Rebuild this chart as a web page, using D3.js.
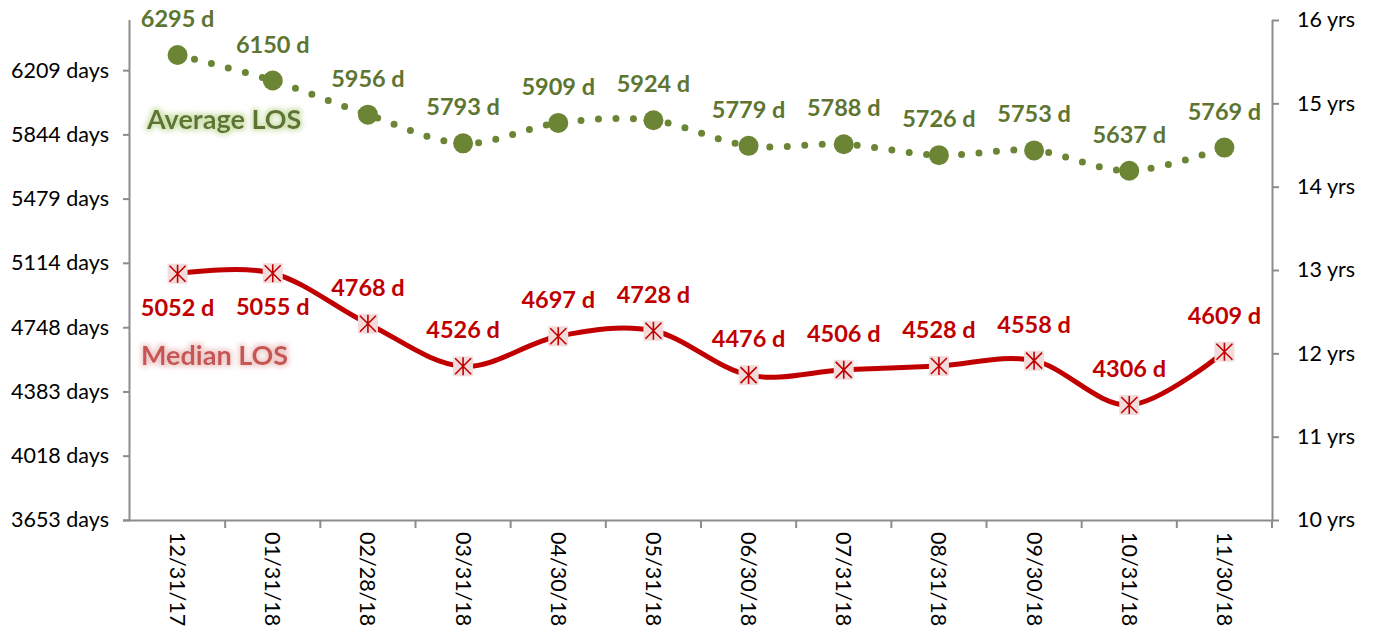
<!DOCTYPE html>
<html>
<head>
<meta charset="utf-8">
<script src="https://cdn.jsdelivr.net/npm/d3@7.9.0/dist/d3.min.js"></script>
<style>
  body { margin: 0; background: #fff; }
  svg { display: block; font-family: Lato, "Open Sans", sans-serif; }
  .axis path, .axis line { stroke: #8c8c8c; stroke-width: 2; }
  .axis text { fill: #000; font-size: 21.5px; font-family: Lato, "Open Sans", sans-serif; }
</style>
</head>
<body>
<svg id="chart" width="1382" height="632"></svg>
<script>
// values
const dates = ['12/31/17', '01/31/18', '02/28/18', '03/31/18', '04/30/18', '05/31/18',
  '06/30/18', '07/31/18', '08/31/18', '09/30/18', '10/31/18', '11/30/18'];
const avgLOS = [6295, 6150, 5956, 5793, 5909, 5924, 5779, 5788, 5726, 5753, 5637, 5769];
const medianLOS = [5052, 5055, 4768, 4526, 4697, 4728, 4476, 4506, 4528, 4558, 4306, 4609];
const dayTicks = [3653, 4018, 4383, 4748, 5114, 5479, 5844, 6209];
const yearTicks = [10, 11, 12, 13, 14, 15, 16];

const width = 1382, height = 632;
const margin = { top: 20, right: 110, bottom: 112, left: 130 };

const green = '#6b8535';
const greenText = '#5d7530';
const red = '#c00000';

const svg = d3.select('#chart');

const x = d3.scaleBand().domain(dates).range([margin.left, width - margin.right]);
const y = d3.scaleLinear().domain([3652.5, 6494]).range([height - margin.bottom, margin.top]);
const yR = d3.scaleLinear().domain([10, 16]).range([height - margin.bottom, margin.top]);
const cx = (d) => x(d) + x.bandwidth() / 2;

// glow filters for the series titles
let defs = svg.append('defs');
function glow(id, color) {
    let f = defs.append('filter').attr('id', id)
        .attr('x', '-20%').attr('y', '-50%').attr('width', '140%').attr('height', '200%');
    f.append('feMorphology').attr('in', 'SourceAlpha').attr('operator', 'dilate').attr('radius', 2).attr('result', 'fat');
    f.append('feGaussianBlur').attr('in', 'fat').attr('stdDeviation', 2.5).attr('result', 'blur');
    f.append('feFlood').attr('flood-color', color);
    f.append('feComposite').attr('in2', 'blur').attr('operator', 'in').attr('result', 'glow');
    let m = f.append('feMerge');
    m.append('feMergeNode').attr('in', 'glow');
    m.append('feMergeNode').attr('in', 'SourceGraphic');
}
glow('glowGreen', '#d3e3b4');
glow('glowPink', '#efcccb');

// axes
svg.append('g')
    .attr('class', 'axis')
    .attr('transform', `translate(${margin.left},0)`)
    .call(d3.axisLeft(y).tickValues(dayTicks).tickSize(7).tickPadding(14).tickFormat((d) => `${d} days`))
    .call((g) => g.select('.domain').attr('d', `M-0.5,${y.range()[0]}V${y.range()[1]}`));

svg.append('g')
    .attr('class', 'axis')
    .attr('transform', `translate(${width - margin.right},0)`)
    .call(d3.axisRight(yR).tickValues(yearTicks).tickSize(7).tickPadding(18).tickFormat((d) => `${d} yrs`))
    .call((g) => g.select('.domain').attr('d', `M0.5,${yR.range()[0]}V${yR.range()[1]}`));

let xAxis = svg.append('g')
    .attr('class', 'axis')
    .attr('transform', `translate(0,${height - margin.bottom})`)
    .call(d3.axisBottom(x).tickSize(0).tickPadding(0));
xAxis.select('.domain').attr('d', `M${margin.left - 7},0.5H${width - margin.right + 1}`);
xAxis.selectAll('.tick text')
    .attr('transform', 'translate(0,12) rotate(90)')
    .attr('text-anchor', 'start')
    .attr('dy', '0.35em')
    .attr('x', 0).attr('y', 0);
xAxis.selectAll('.bound')
    .data(d3.range(1, dates.length + 1))
    .join('line')
    .attr('x1', (i) => margin.left + i * x.step())
    .attr('x2', (i) => margin.left + i * x.step())
    .attr('y1', 0).attr('y2', 8);

// lines
const line = (vals) => d3.line()
    .x((d, i) => cx(dates[i]))
    .y((d) => y(d))
    .curve(d3.curveCardinal.tension(0))(vals);

svg.append('path')
    .attr('d', line(avgLOS))
    .attr('fill', 'none')
    .attr('stroke', green)
    .attr('stroke-width', 7)
    .attr('stroke-linecap', 'round')
    .attr('stroke-dasharray', '0 17.5');

svg.append('path')
    .attr('d', line(medianLOS))
    .attr('fill', 'none')
    .attr('stroke', red)
    .attr('stroke-width', 5);

// markers
svg.selectAll('.avgDot')
    .data(avgLOS)
    .join('circle')
    .attr('cx', (d, i) => cx(dates[i]))
    .attr('cy', (d) => y(d))
    .attr('r', 10)
    .attr('fill', green);

let med = svg.selectAll('.medMark')
    .data(medianLOS)
    .join('g')
    .attr('transform', (d, i) => `translate(${cx(dates[i])},${y(d)})`);
med.append('rect')
    .attr('x', -10).attr('y', -10).attr('width', 20).attr('height', 20)
    .attr('fill', '#f2dcdb');
med.append('path')
    .attr('d', 'M0,-9V9M-8,-8L8,8M-8,8L8,-8')
    .attr('stroke', red)
    .attr('stroke-width', 1.6);

// value labels
svg.selectAll('.avgLabel')
    .data(avgLOS)
    .join('text')
    .attr('x', (d, i) => cx(dates[i]))
    .attr('y', (d) => y(d) - 28)
    .attr('text-anchor', 'middle')
    .attr('font-size', 23.5)
    .attr('font-weight', 'bold')
    .attr('fill', greenText)
    .text((d) => `${d} d`);

svg.selectAll('.medLabel')
    .data(medianLOS)
    .join('text')
    .attr('x', (d, i) => cx(dates[i]))
    .attr('y', (d, i) => i < 2 ? y(d) + 42 : y(d) - 28)
    .attr('text-anchor', 'middle')
    .attr('font-size', 23.5)
    .attr('font-weight', 'bold')
    .attr('fill', red)
    .text((d) => `${d} d`);

// series titles
svg.append('text')
    .attr('x', 147).attr('y', 129)
    .attr('font-size', 27)
    .attr('font-weight', 'bold')
    .attr('fill', greenText)
    .attr('filter', 'url(#glowGreen)')
    .text('Average LOS');

svg.append('text')
    .attr('x', 141).attr('y', 365)
    .attr('font-size', 27)
    .attr('font-weight', 'bold')
    .attr('fill', '#c65553')
    .attr('filter', 'url(#glowPink)')
    .text('Median LOS');
</script>
</body>
</html>
